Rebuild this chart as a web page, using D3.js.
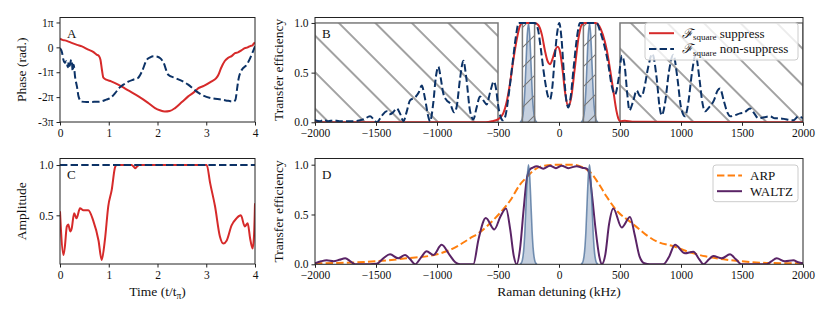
<!DOCTYPE html>
<html>
<head>
<meta charset="utf-8">
<script src="https://cdn.jsdelivr.net/npm/d3@7"></script>
<style>
body { margin: 0; background: #fff; }
svg text { font-family: "Liberation Serif", "DejaVu Serif", serif; fill: #111; }
.axis text { font-size: 11.5px; font-family: "Liberation Serif", "DejaVu Serif", serif; }
.axis line { stroke: #222; }
.axis path { display: none; }
</style>
</head>
<body>
<div id="chart-area"></div>
<script>
// ---- Panel A: phase (units of pi) ----
var phaseSupT = [0,0.05,0.1,0.15,0.24,0.35,0.45,0.58,0.68,0.75,0.8,0.83,0.86,0.89,0.95,1.05,1.13,1.26,1.4,1.61,1.8,1.95,2.05,2.15,2.25,2.36,2.5,2.63,2.75,2.84,2.95,3.11,3.2,3.25,3.3,3.38,3.45,3.52,3.59,3.65,3.72,3.79,3.85,3.9,3.95,3.97,4.0];
var phaseSupVal = [0.35,0.3,0.28,0.25,0.18,0.1,0.04,-0.09,-0.18,-0.29,-0.35,-0.5,-0.9,-1.22,-1.3,-1.37,-1.44,-1.57,-1.73,-1.97,-2.22,-2.44,-2.53,-2.58,-2.56,-2.44,-2.2,-1.97,-1.8,-1.64,-1.55,-1.37,-1.25,-1.1,-0.85,-0.55,-0.42,-0.35,-0.23,-0.2,-0.12,-0.03,0.0,0.05,0.08,0.14,0.2];
var phaseNonT = [0,0.04,0.07,0.1,0.13,0.16,0.18,0.2,0.22,0.24,0.26,0.28,0.31,0.35,0.38,0.44,0.55,0.7,0.82,0.95,1.03,1.13,1.22,1.3,1.4,1.5,1.6,1.68,1.78,1.85,1.92,2.0,2.05,2.12,2.22,2.36,2.5,2.63,2.75,2.9,3.1,3.32,3.45,3.56,3.6,3.63,3.66,3.73,3.83,3.93,4.0];
var phaseNonVal = [-0.03,-0.2,-0.5,-0.62,-0.56,-0.8,-0.6,-0.75,-0.55,-0.5,-0.95,-0.7,-1.2,-1.6,-1.97,-2.18,-2.2,-2.19,-2.18,-2.1,-2.04,-1.84,-1.62,-1.5,-1.38,-1.3,-1.23,-0.97,-0.5,-0.4,-0.36,-0.38,-0.43,-0.6,-1.1,-1.23,-1.35,-1.5,-1.7,-1.9,-2.04,-2.1,-2.15,-2.18,-2.1,-1.7,-1.3,-0.9,-0.7,-0.3,0.04];
var phaseTicks = [1, 0, -1, -2, -3];
var phaseTickLabels = ["1\u03c0", "0", "-1\u03c0", "-2\u03c0", "-3\u03c0"];

// ---- Panel C: amplitude ----
var ampT = [0,0.02,0.07,0.1,0.14,0.17,0.21,0.24,0.29,0.34,0.41,0.48,0.58,0.68,0.79,0.855,0.92,0.99,1.06,1.13,1.16,1.47,1.51,1.54,1.58,1.62,3.01,3.08,3.18,3.28,3.35,3.42,3.52,3.62,3.71,3.79,3.85,3.9,3.95,3.98,4.0];
var ampSupVal = [0.54,0.35,0.105,0.19,0.39,0.41,0.34,0.37,0.52,0.47,0.57,0.55,0.55,0.45,0.25,0.056,0.25,0.59,0.75,0.98,1.0,1.0,0.985,0.967,0.985,1.0,1.0,0.82,0.59,0.29,0.22,0.25,0.4,0.47,0.5,0.39,0.42,0.27,0.17,0.3,0.62];
var ampNonT = [0, 4];
var ampNonVal = [1, 1];

// ---- Panel B: transfer efficiency, square pulses ----
var supDet = [-2000,-1000,-600,-550,-500,-457,-430,-402,-375,-347,-320,-300,-250,-200,-170,-140,-115,-95,-74,-50,-30,-10,10,30,50,76,100,130,160,186,210,250,300,330,360,391,420,445,470,486,500,540,600,2000];
var supEff = [0,0,0,0.01,0.03,0.09,0.2,0.39,0.62,0.83,0.97,1.0,1.0,1.0,0.98,0.88,0.72,0.62,0.585,0.65,0.73,0.76,0.7,0.52,0.3,0.16,0.25,0.55,0.85,0.98,1.0,1.0,1.0,0.97,0.88,0.73,0.52,0.32,0.12,0.04,0.01,0.015,0.005,0];
var nonDet = [-2000,-1960,-1930,-1890,-1850,-1800,-1700,-1600,-1549,-1520,-1494,-1450,-1412,-1390,-1360,-1330,-1300,-1276,-1250,-1221,-1180,-1150,-1125,-1100,-1070,-1057,-1030,-1010,-989,-970,-950,-920,-893,-860,-840,-810,-784,-760,-730,-702,-675,-648,-620,-593,-565,-535,-515,-500,-480,-460,-440,-410,-380,-355,-330,-300,-250,-200,-175,-150,-130,-115,-90,-74,-55,-35,-15,2,20,40,60,76,95,120,150,172,200,250,309,336,370,404,430,459,490,515,540,560,577,605,637,660,678,700,730,765,800,825,842,870,900,937,970,1000,1033,1060,1090,1120,1150,1175,1197,1230,1270,1300,1320,1350,1380,1405,1440,1484,1520,1566,1600,1634,1680,1730,1770,1812,1860,1921,1962,2000];
var nonEff = [0.02,0.01,0.025,0.01,0.02,0.01,0.01,0.03,0.06,0.03,0.0,0.07,0.11,0.08,0.1,0.14,0.08,0.01,0.1,0.22,0.25,0.3,0.37,0.25,0.05,0.01,0.2,0.45,0.56,0.45,0.3,0.22,0.19,0.1,0.15,0.45,0.62,0.45,0.12,0.03,0.15,0.26,0.22,0.18,0.3,0.41,0.33,0.18,0.06,0.02,0.06,0.3,0.6,0.85,1.0,1.0,1.0,1.0,0.95,0.75,0.55,0.42,0.26,0.23,0.35,0.65,0.9,1.0,0.85,0.5,0.22,0.15,0.25,0.55,0.88,1.0,1.0,1.0,1.0,0.92,0.78,0.585,0.38,0.28,0.45,0.67,0.55,0.28,0.12,0.2,0.32,0.27,0.26,0.35,0.55,0.69,0.45,0.15,0.07,0.2,0.5,0.68,0.45,0.15,0.06,0.2,0.5,0.68,0.45,0.2,0.11,0.15,0.22,0.32,0.34,0.22,0.1,0.06,0.07,0.09,0.1,0.14,0.09,0.04,0.05,0.06,0.04,0.04,0.03,0.02,0.06,0.04];

// Gaussian pulse spectra (both panels B and D)
var pulseLeftDet = [-320,-310,-300,-290,-280,-270,-260,-250,-240,-230,-220,-210,-200,-190,-180];
var pulseRightDet = [180,190,200,210,220,230,240,250,260,270,280,290,300,310,320];
var pulseEff = [0.002,0.011,0.044,0.135,0.32,0.61,0.88,1.0,0.88,0.61,0.32,0.135,0.044,0.011,0.002];

// Hatched (excluded) detuning bands in panel B
var wideBands = [[-2000, -500], [500, 2000]];
var narrowBands = [[-300, -200], [200, 300]];

// ---- Panel D: ARP vs WALTZ ----
var arpDet = [-2000,-1750,-1500,-1250,-1000,-850,-730,-650,-550,-480,-400,-320,-260,-200,-120,0,120,200,260,330,390,480,580,660,720,800,940,1050,1200,1350,1500,1750,2000];
var arpEff = [0.01,0.015,0.03,0.06,0.1,0.17,0.26,0.32,0.43,0.52,0.64,0.8,0.88,0.95,0.99,1.0,1.0,0.97,0.92,0.8,0.68,0.53,0.43,0.35,0.29,0.23,0.18,0.13,0.08,0.05,0.03,0.012,0.01];
var waltzDet = [-2000,-1950,-1904,-1847,-1800,-1752,-1710,-1672,-1550,-1494,-1440,-1385,-1317,-1262,-1220,-1180,-1130,-1085,-1030,-962,-900,-850,-811,-702,-660,-600,-530,-480,-434,-400,-370,-347,-320,-290,-265,-240,-215,-183,-129,-74,-25,22,76,145,190,227,250,270,300,330,350,380,410,445,514,582,620,660,700,746,855,900,951,1033,1101,1150,1183,1230,1265,1333,1402,1450,1497,1600,1702,1740,1784,1852,1921,1960,2000];
var waltzEff = [0.01,0.03,0.04,0.03,0.045,0.06,0.03,0.0,0.0,0.005,0.06,0.1,0.06,0.094,0.05,0.0,0.07,0.13,0.094,0.195,0.1,0.02,0.0,0.0,0.25,0.465,0.35,0.48,0.56,0.35,0.08,0.0,0.15,0.55,0.85,0.95,0.97,0.985,0.96,0.99,0.965,0.99,0.965,0.985,0.97,0.96,0.9,0.7,0.35,0.08,0.0,0.1,0.4,0.56,0.37,0.475,0.3,0.08,0.01,0.0,0.0,0.07,0.195,0.11,0.127,0.05,0.0,0.05,0.084,0.06,0.1,0.05,0.0,0.0,0.0,0.03,0.06,0.03,0.04,0.02,0.01];

var effTicks = [0, 0.5, 1.0];
var detTicks = [-2000, -1500, -1000, -500, 0, 500, 1000, 1500, 2000];
var timeTicks = [0, 1, 2, 3, 4];

// colours
var cRed = "#d62a2a", cNavy = "#0c3266", cOrange = "#ff7f0e", cPurple = "#5a2466",
    cGray = "#7a7a7a", cPulse = "#4a6d9a";

var W = 830, H = 312;
var svg = d3.select("#chart-area").append("svg")
    .attr("width", W)
    .attr("height", H);

var defs = svg.append("defs");

function hatch(id, spacing, angle, off, sw) {
    var p = defs.append("pattern")
        .attr("id", id)
        .attr("patternUnits", "userSpaceOnUse")
        .attr("width", spacing)
        .attr("height", 10)
        .attr("patternTransform", "rotate(" + angle + ") translate(" + off + ",0)");
    p.append("line")
        .attr("x1", spacing / 2).attr("x2", spacing / 2)
        .attr("y1", -1).attr("y2", 11)
        .attr("stroke", cGray)
        .attr("stroke-width", sw);
}
hatch("hatchWide", 36.5 / Math.SQRT2, -45, 4, 1.4);
hatch("hatchNarrow", 20 / Math.SQRT2, 45, 0, 1.0);

// Panel boxes (pixel extents)
var boxA = { l: 60, r: 255, t: 17.5, b: 122 },
    boxB = { l: 315, r: 803, t: 17.5, b: 122.3 },
    boxC = { l: 60, r: 255, t: 158.5, b: 264 },
    boxD = { l: 315, r: 803, t: 158.5, b: 264.3 };

var xTime = function(box) { return d3.scaleLinear().domain([0, 4]).range([box.l, box.r]); };
var xDet = function(box) { return d3.scaleLinear().domain([-2000, 2000]).range([box.l, box.r]); };

var xA = xTime(boxA), yA = d3.scaleLinear().domain([-3, 1.2]).range([boxA.b, boxA.t]);
var xB = xDet(boxB), yB = d3.scaleLinear().domain([0, 1.055]).range([boxB.b, boxB.t]);
var xC = xTime(boxC), yC = d3.scaleLinear().domain([0.016, 1.065]).range([boxC.b, boxC.t]);
var xD = xDet(boxD), yD = d3.scaleLinear().domain([0, 1.062]).range([boxD.b, boxD.t]);

function clip(id, box) {
    defs.append("clipPath").attr("id", id).append("rect")
        .attr("x", box.l).attr("y", box.t)
        .attr("width", box.r - box.l).attr("height", box.b - box.t);
}
clip("clipA", boxA); clip("clipB", boxB); clip("clipC", boxC); clip("clipD", boxD);

function zip(a, b) { return a.map(function(v, i) { return [v, b[i]]; }); }

function drawLine(g, x, y, xs, ys, color, dashed, width) {
    var line = d3.line()
        .x(function(d) { return x(d[0]); })
        .y(function(d) { return y(d[1]); })
        .curve(d3.curveMonotoneX);
    g.append("path")
        .attr("d", line(zip(xs, ys)))
        .attr("fill", "none")
        .attr("stroke", color)
        .attr("stroke-width", width || 2)
        .attr("stroke-dasharray", dashed ? "7.4,3.2" : null)
        .attr("stroke-linejoin", "round");
}

function drawPulse(g, x, y, xs) {
    var area = d3.area()
        .x(function(d) { return x(d[0]); })
        .y0(y(0))
        .y1(function(d) { return y(d[1]); })
        .curve(d3.curveMonotoneX);
    var line = d3.line()
        .x(function(d) { return x(d[0]); })
        .y(function(d) { return y(d[1]); })
        .curve(d3.curveMonotoneX);
    var data = zip(xs, pulseEff);
    g.append("path").attr("d", area(data))
        .attr("fill", cPulse).attr("fill-opacity", 0.32);
    g.append("path").attr("d", line(data))
        .attr("fill", "none").attr("stroke", cPulse)
        .attr("stroke-opacity", 0.75).attr("stroke-width", 1.6);
}

function axes(box, x, y, xticks, yticks, yfmt, xfmt) {
    svg.append("g")
        .attr("class", "axis")
        .attr("transform", "translate(0," + box.b + ")")
        .call(d3.axisBottom(x).tickValues(xticks).tickSize(3.5).tickPadding(3)
            .tickFormat(xfmt));
    svg.append("g")
        .attr("class", "axis")
        .attr("transform", "translate(" + box.l + ",0)")
        .call(d3.axisLeft(y).tickValues(yticks).tickSize(3.5).tickPadding(3)
            .tickFormat(yfmt));
    svg.append("rect")
        .attr("x", box.l).attr("y", box.t)
        .attr("width", box.r - box.l).attr("height", box.b - box.t)
        .attr("fill", "none").attr("stroke", "#222").attr("stroke-width", 1);
}

function letter(box, s) {
    svg.append("text")
        .attr("x", box.l + 7).attr("y", box.t + 20)
        .style("font-size", "13px")
        .text(s);
}

var fmtInt = function(d) { return d < 0 ? "\u2212" + Math.abs(d) : String(d); };
var fmtTime = function(d) { return String(d); };
var fmt1 = d3.format(".1f");

// ---------- Panel A ----------
var gA = svg.append("g").attr("clip-path", "url(#clipA)");
drawLine(gA, xA, yA, phaseSupT, phaseSupVal, cRed, false);
drawLine(gA, xA, yA, phaseNonT, phaseNonVal, cNavy, true);
axes(boxA, xA, yA, timeTicks, phaseTicks,
    function(d, i) { return phaseTickLabels[i]; }, fmtTime);
letter(boxA, "A");

// ---------- Panel B ----------
var gB = svg.append("g").attr("clip-path", "url(#clipB)");
wideBands.forEach(function(b) {
    gB.append("rect")
        .attr("x", xB(b[0])).attr("y", yB(1))
        .attr("width", xB(b[1]) - xB(b[0])).attr("height", yB(0) - yB(1))
        .attr("fill", "url(#hatchWide)")
        .attr("stroke", cGray).attr("stroke-width", 1.5);
});
drawPulse(gB, xB, yB, pulseLeftDet);
drawPulse(gB, xB, yB, pulseRightDet);
narrowBands.forEach(function(b) {
    gB.append("rect")
        .attr("x", xB(b[0])).attr("y", yB(1))
        .attr("width", xB(b[1]) - xB(b[0])).attr("height", yB(0) - yB(1))
        .attr("fill", "url(#hatchNarrow)")
        .attr("stroke", cGray).attr("stroke-width", 1.5);
});
drawLine(gB, xB, yB, supDet, supEff, cRed, false);
drawLine(gB, xB, yB, nonDet, nonEff, cNavy, true);
axes(boxB, xB, yB, detTicks, effTicks, fmt1, fmtInt);
letter(boxB, "B");

// ---------- Panel C ----------
var gC = svg.append("g").attr("clip-path", "url(#clipC)");
drawLine(gC, xC, yC, ampT, ampSupVal, cRed, false);
drawLine(gC, xC, yC, ampNonT, ampNonVal, cNavy, true);
axes(boxC, xC, yC, timeTicks, [0.5, 1.0], fmt1, fmtTime);
letter(boxC, "C");

// ---------- Panel D ----------
var gD = svg.append("g").attr("clip-path", "url(#clipD)");
drawLine(gD, xD, yD, arpDet, arpEff, cOrange, true);
drawLine(gD, xD, yD, waltzDet, waltzEff, cPurple, false);
drawPulse(gD, xD, yD, pulseLeftDet);
drawPulse(gD, xD, yD, pulseRightDet);
axes(boxD, xD, yD, detTicks, effTicks, fmt1, fmtInt);
letter(boxD, "D");

// ---------- axis titles ----------
function ylabel(x, y, s) {
    svg.append("text")
        .attr("transform", "translate(" + x + "," + y + ") rotate(-90)")
        .attr("text-anchor", "middle")
        .style("font-size", "13.5px")
        .text(s);
}
ylabel(26, (boxA.t + boxA.b) / 2, "Phase (rad.)");
ylabel(26, (boxC.t + boxC.b) / 2, "Amplitude");
ylabel(283, (boxB.t + boxB.b) / 2, "Transfer efficiency");
ylabel(283, (boxD.t + boxD.b) / 2, "Transfer efficiency");

var tl = svg.append("text")
    .attr("x", (boxC.l + boxC.r) / 2).attr("y", 296)
    .attr("text-anchor", "middle")
    .style("font-size", "13.5px");
tl.append("tspan").text("Time (t/t");
tl.append("tspan").attr("dy", 3).style("font-size", "9.5px").text("\u03c0");
tl.append("tspan").attr("dy", -3).text(")");

svg.append("text")
    .attr("x", (boxD.l + boxD.r) / 2).attr("y", 296)
    .attr("text-anchor", "middle")
    .style("font-size", "13.5px")
    .text("Raman detuning (kHz)");

// ---------- legends ----------
function legend(x, y, w, h, items) {
    var g = svg.append("g");
    g.append("rect")
        .attr("x", x).attr("y", y).attr("width", w).attr("height", h)
        .attr("rx", 3)
        .attr("fill", "#fff").attr("fill-opacity", 0.8)
        .attr("stroke", "#ccc").attr("stroke-width", 1);
    items.forEach(function(it, i) {
        var yy = y + 10.5 + i * 15.7;
        g.append("line")
            .attr("x1", x + 4).attr("x2", x + 29)
            .attr("y1", yy).attr("y2", yy)
            .attr("stroke", it.color).attr("stroke-width", 2)
            .attr("stroke-dasharray", it.dashed ? "7.4,3.2" : null);
        var t = g.append("text")
            .attr("x", x + 37).attr("y", yy + 4.5)
            .style("font-size", "13px");
        it.build(t);
    });
}

function fSquare(label) {
    return function(t) {
        t.append("tspan").style("font-style", "italic").text("\u2131");
        t.append("tspan").attr("dy", 2.5).style("font-size", "9px").text("square");
        t.append("tspan").attr("dy", -2.5).text(" " + label);
    };
}
legend(645, 22.7, 153, 37.3, [
    { color: cRed, dashed: false, build: fSquare("suppress") },
    { color: cNavy, dashed: true, build: fSquare("non-suppress") }
]);
legend(713, 165, 85, 36.7, [
    { color: cOrange, dashed: true, build: function(t) { t.text("ARP"); } },
    { color: cPurple, dashed: false, build: function(t) { t.text("WALTZ"); } }
]);
</script>
</body>
</html>
